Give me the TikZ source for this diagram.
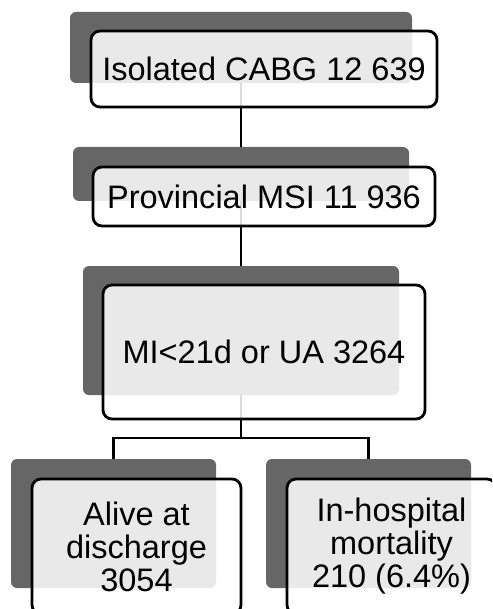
\documentclass[tikz,border=0pt]{standalone}
\usepackage{fontspec}
\setmainfont{Liberation Sans}
\begin{document}
\begin{tikzpicture}[x=1pt,y=-1pt,
  shadowbox/.style={fill=shadowgray, draw=none, rounded corners=6pt, inner sep=0pt},
  frontbox/.style={draw=black, line width=2.8pt, fill=white, fill opacity=0.86,
     text opacity=1, draw opacity=1, rounded corners=9pt, inner sep=0pt,
     align=center, font=\fontsize{32.5}{33}\selectfont},
  link/.style={draw=black, line width=2.5pt}]
\definecolor{shadowgray}{RGB}{102,102,102}
\useasboundingbox (0,0) rectangle (492,609);
\clip (0,0) rectangle (492,609);
% shadows
\node[shadowbox, minimum width=342pt, minimum height=71pt] (s1) at (241,47.5) {};
\node[shadowbox, minimum width=336pt, minimum height=54pt] (s2) at (241,174) {};
\node[shadowbox, minimum width=316pt, minimum height=129pt] (s3) at (241,330.5) {};
\node[shadowbox, minimum width=205pt, minimum height=129pt] (s4) at (113.5,523.5) {};
\node[shadowbox, minimum width=205pt, minimum height=129pt] (s5) at (368.5,523.5) {};
% connectors
\coordinate (j) at (241,438);
\draw[link] (s1.south) -- (s2.north);
\draw[link] (s2.south) -- (s3.north);
\draw[link] (s3.south) -- (j);
\draw[link] (s4.north) |- (j) -| (s5.north);
% front boxes
\node[frontbox, minimum width=346pt, minimum height=76pt] (b1) at (264,69) {Isolated CABG 12 639};
\node[frontbox, minimum width=342pt, minimum height=59pt] (b2) at (264,196.5) {Provincial MSI 11 936};
\node[frontbox, minimum width=322pt, minimum height=134pt] (b3) at (264,352) {MI<21d or UA 3264};
\node[frontbox, minimum width=209pt, minimum height=135pt] (b4) at (136.5,546.5) {Alive at\\discharge\\3054};
\node[frontbox, minimum width=209pt, minimum height=135pt] (b5) at (391.5,546.5) {In-hospital\\mortality\\210 (6.4\%)};
\end{tikzpicture}
\end{document}
